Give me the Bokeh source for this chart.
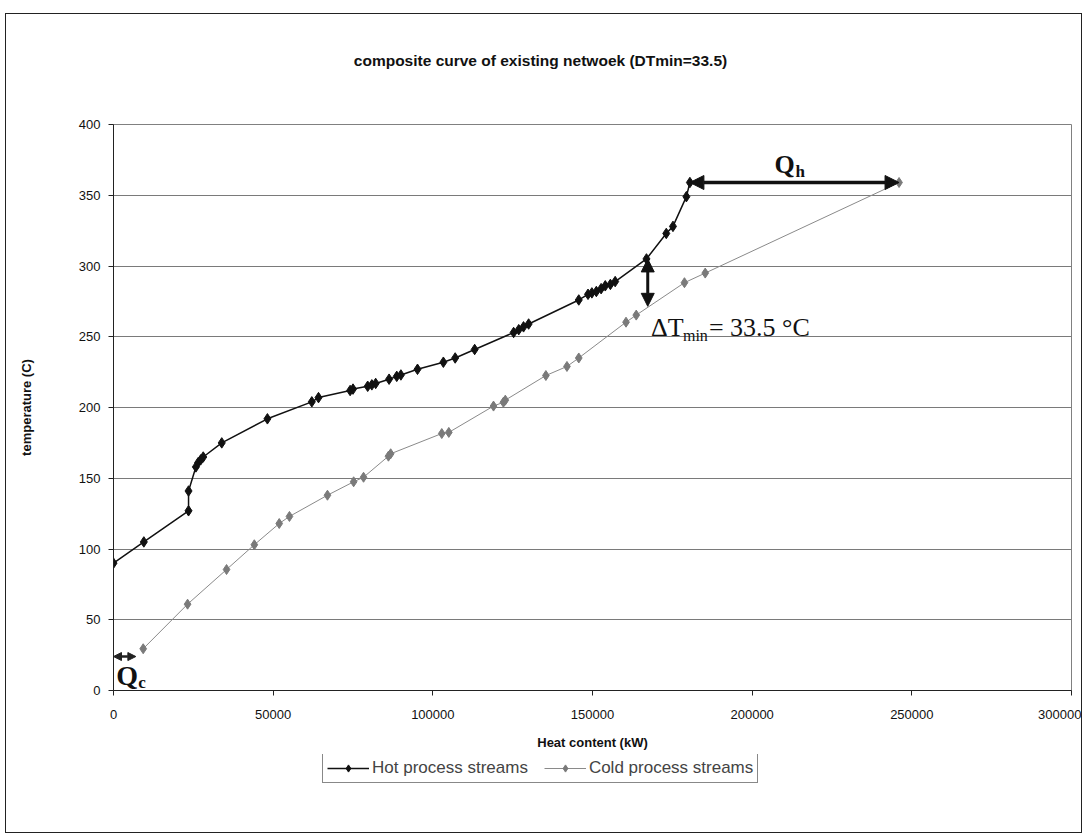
from bokeh.plotting import figure
from bokeh.layouts import column
from bokeh.models import Range1d, Label, Legend, LegendItem, Arrow, NormalHead, FixedTicker, PrintfTickFormatter
from bokeh.embed import file_html
from bokeh.resources import INLINE

# ---- data ----
hot_q = [0, 9500, 23500, 23500, 25800, 26500, 27300, 28100, 33900, 48200,
         62100, 64200, 74100, 75000, 79600, 80900, 82100, 86300, 88700, 90000,
         95200, 103300, 107000, 113100, 125300, 126900, 128400, 130000, 145700,
         148600, 149800, 151200, 152700, 154000, 155600, 157100, 166900, 173100,
         175200, 179400, 180500]
hot_t = [90, 105, 127, 141, 158, 161, 163, 165, 175, 192,
         204, 207, 212, 213, 215, 216, 217, 220, 222, 223,
         227, 232, 235, 241, 253, 255, 257, 259, 276,
         280, 281, 282, 284, 286, 287, 289, 305, 323,
         328, 349, 359]

cold_q = [9300, 23200, 35400, 44100, 51900, 55100, 67000, 75200, 78300, 86100,
          86800, 102800, 105000, 119000, 122100, 122700, 135400, 142000, 145700,
          160500, 163700, 178800, 185300, 246000]
cold_t = [29.5, 61, 85.5, 103, 118, 123, 138, 147.5, 150.7, 165.6,
          167.3, 181.6, 182.4, 201, 203.7, 205.2, 222.6, 229, 235,
          260.3, 265.3, 288.2, 295, 359]

x_ticks = [0, 50000, 100000, 150000, 200000, 250000, 300000]
y_ticks = [0, 50, 100, 150, 200, 250, 300, 350, 400]

# annotation values
pinch_q, pinch_hot, pinch_cold = 167300, 305, 271.5
qc_t, qc_end = 24, 7000

FONT = "Liberation Sans"
SERIF = "Liberation Serif"
HOT_C, COLD_LINE_C, COLD_PT_C = "#111111", "#8a8a8a", "#7a7a7a"
W = 1075


def blank_strip(height):
    f = figure(width=W, height=height, x_range=Range1d(0, 1), y_range=Range1d(0, 1),
               output_backend="svg", toolbar_location=None, min_border=0,
               x_axis_location=None, y_axis_location=None)
    f.grid.visible = False
    f.outline_line_color = None
    f.background_fill_color = "white"
    f.border_fill_color = "white"
    return f


# ---- title strip ----
tf = blank_strip(100)
tf.add_layout(Label(x=427, y=54, x_units="screen", y_units="screen",
                    text="composite curve of existing netwoek (DTmin=33.5)",
                    text_font=FONT, text_font_size="15.5px", text_font_style="bold",
                    text_align="center", text_baseline="middle", text_color="#111"))

# ---- main chart ----
p = figure(width=W, height=640, x_range=Range1d(0, 300000), y_range=Range1d(0, 400),
           output_backend="svg", toolbar_location=None,
           min_border_left=107, min_border_right=10, min_border_top=10, min_border_bottom=64)
p.background_fill_color = "white"
p.border_fill_color = "white"
p.outline_line_color = "#808080"

p.xgrid.visible = False
p.ygrid.grid_line_color = "#7a7a7a"
p.ygrid.grid_line_width = 1
p.ygrid.ticker = FixedTicker(ticks=y_ticks)

p.xaxis.ticker = FixedTicker(ticks=x_ticks)
p.yaxis.ticker = FixedTicker(ticks=y_ticks)
p.xaxis.formatter = PrintfTickFormatter(format="%d")
for ax in (p.xaxis, p.yaxis):
    ax.axis_line_color = "#222"
    ax.major_tick_line_color = "#222"
    ax.major_tick_in = 0
    ax.major_tick_out = 5
    ax.minor_tick_line_color = None
    ax.major_label_text_font = FONT
    ax.major_label_text_font_size = "13px"
    ax.major_label_text_color = "#111"
    ax.axis_label_text_font = FONT
    ax.axis_label_text_font_size = "13px"
    ax.axis_label_text_font_style = "bold"
    ax.axis_label_text_color = "#111"
p.xaxis.axis_label = "Heat content (kW)"
p.yaxis.axis_label = "temperature (C)"
p.xaxis.major_label_standoff = 14
p.xaxis.axis_label_standoff = 13
p.yaxis.major_label_standoff = 8
p.yaxis.axis_label_standoff = 42

p.line(hot_q, hot_t, line_color=HOT_C, line_width=1.5)
p.scatter(hot_q, hot_t, marker="diamond", size=10.5, fill_color=HOT_C, line_color=HOT_C)
p.line(cold_q, cold_t, line_color=COLD_LINE_C, line_width=1)
p.scatter(cold_q, cold_t, marker="diamond", size=10, fill_color=COLD_PT_C, line_color=COLD_PT_C)


def head(s, c="#111"):
    return NormalHead(size=s, fill_color=c, line_color=c)


p.add_layout(Arrow(x_start=hot_q[-1], y_start=hot_t[-1], x_end=cold_q[-1], y_end=hot_t[-1],
                   line_width=3.5, line_color="#111", start=head(14), end=head(14)))
p.add_layout(Arrow(x_start=pinch_q, y_start=pinch_hot, x_end=pinch_q, y_end=pinch_cold,
                   line_width=3, line_color="#111", start=head(13), end=head(13)))
p.add_layout(Arrow(x_start=0, y_start=qc_t, x_end=qc_end, y_end=qc_t,
                   line_width=2.5, line_color="#222", start=head(8, "#222"), end=head(8, "#222")))


def lab(x, y, text, size, xo=0, bold=False):
    return Label(x=x, y=y, x_offset=xo, text=text, text_font=SERIF, text_font_size=size,
                 text_font_style="bold" if bold else "normal", text_baseline="middle",
                 text_color="#111")


p.add_layout(lab(207000, 372, "Q", "26px", bold=True))
p.add_layout(lab(207000, 367, "h", "17px", xo=21, bold=True))
p.add_layout(lab(900, 10.5, "Q", "28px", bold=True))
p.add_layout(lab(900, 5.5, "c", "17px", xo=22, bold=True))
p.add_layout(lab(168300, 256.5, "\u0394T", "26px"))
p.add_layout(lab(168300, 251, "min", "16px", xo=32))
p.add_layout(lab(168300, 256.5, "= 33.5 \u00b0C", "26px", xo=58))

# ---- legend strip (same series, all outside this strip's visible range) ----
lg = blank_strip(78)
lh_line = lg.line(hot_q, hot_t, line_color=HOT_C, line_width=1.5)
lh_pts = lg.scatter(hot_q, hot_t, marker="diamond", size=8, fill_color=HOT_C, line_color=HOT_C)
lc_line = lg.line(cold_q, cold_t, line_color=COLD_LINE_C, line_width=1)
lc_pts = lg.scatter(cold_q, cold_t, marker="diamond", size=8, fill_color=COLD_PT_C, line_color=COLD_PT_C)

legend = Legend(items=[LegendItem(label="Hot process streams", renderers=[lh_line, lh_pts]),
                       LegendItem(label="Cold process streams", renderers=[lc_line, lc_pts])],
                orientation="horizontal", location=(209, 49))
legend.border_line_color = "#111"
legend.border_line_width = 1
legend.background_fill_alpha = 1
legend.label_text_font = FONT
legend.label_text_font_size = "17px"
legend.glyph_width = 42
legend.glyph_height = 18
legend.label_standoff = 3
legend.spacing = 16
legend.padding = 4
legend.margin = 0
lg.add_layout(legend, "center")

layout = column(tf, p, lg, spacing=0)
layout.margin = (13, 0, 0, 5)
layout.styles = {"border": "1px solid #222"}

open("out.html", "w").write(file_html(layout, INLINE))
